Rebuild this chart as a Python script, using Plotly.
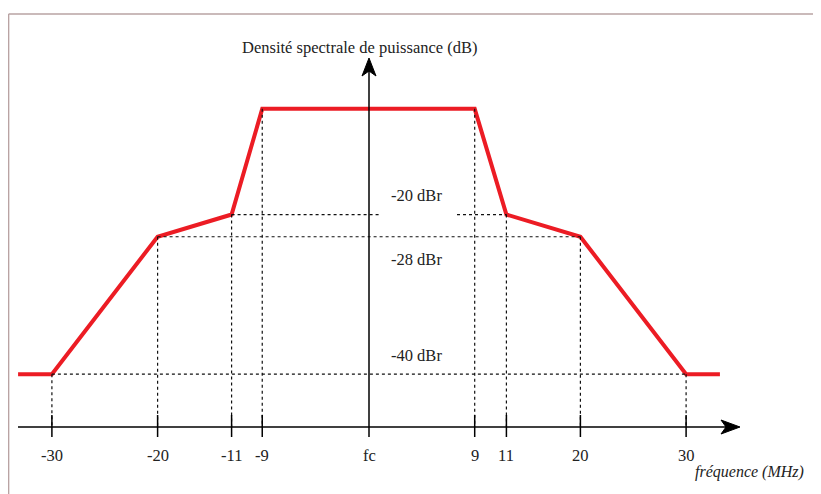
import plotly.graph_objects as go

# ---- data (schematic diagram) ----
freq_labels = ["-30", "-20", "-11", "-9", "fc", "9", "11", "20", "30"]
# position of each frequency tick on the (non-linear) schematic axis
freq_axis_pos = [-30.0, -20.0, -13.0, -10.1, 0.0, 10.0, 13.0, 20.0, 30.0]

# mask breakpoints (schematic axis positions) and levels (schematic heights)
mask_x = [-33.2, -30.0, -20.0, -13.0, -10.1, 10.0, 13.0, 20.0, 30.0, 33.2]
mask_level = ["-40", "-40", "-28", "-20", "0", "0", "-20", "-28", "-40", "-40"]
level_names = ["0", "-20", "-28", "-40"]
level_height = [30.1, 20.1, 18.0, 5.0]
level_labels = ["", "-20 dBr", "-28 dBr", "-40 dBr"]

y_title = "Densité spectrale de puissance (dB)"
x_title = "fréquence (MHz)"

# ---- geometry helpers (page pixels) ----
W, H = 821, 494
OFF = 8             # page body margin
PX = 10.57          # pixels per diagram unit
X0, Y0 = 369, 427   # page pixel position of origin
def ux(px):
    return (px - X0) / PX
def uy(py):
    return (Y0 - py) / PX

lvl = dict(zip(level_names, level_height))
mask_y = [lvl[k] for k in mask_level]
FONT = "Liberation Serif, Times New Roman, serif"
FS = 16.5
RED = "#ec1c24"
TXT = "#222222"

fig = go.Figure()

shapes = []
dash = dict(color="#111111", width=1.2, dash="3px,3px")

# dashed guides: horizontal
y40, y28, y20 = lvl["-40"], lvl["-28"], lvl["-20"]
shapes.append(dict(type="line", xref="x", yref="y", x0=mask_x[1], x1=mask_x[8], y0=y40, y1=y40, line=dash))
shapes.append(dict(type="line", xref="x", yref="y", x0=mask_x[2], x1=mask_x[7], y0=y28, y1=y28, line=dash))
shapes.append(dict(type="line", xref="x", yref="y", x0=mask_x[3], x1=ux(381), y0=y20, y1=y20, line=dash))
shapes.append(dict(type="line", xref="x", yref="y", x0=ux(457), x1=mask_x[6], y0=y20, y1=y20, line=dash))
# dashed guides: vertical
for xp, yv in zip(mask_x[1:9], mask_y[1:9]):
    shapes.append(dict(type="line", xref="x", yref="y", x0=xp, x1=xp, y0=yv, y1=0, line=dash))

# axes
axl = dict(color="black", width=1.5)
shapes.append(dict(type="line", xref="x", yref="y", x0=ux(18), x1=ux(730), y0=0, y1=0, line=axl))
shapes.append(dict(type="line", xref="x", yref="y", x0=0, x1=0, y0=uy(437), y1=uy(66), line=axl))
# arrow heads
shapes.append(dict(type="path", xref="x", yref="y",
                   path=f"M {ux(740)} {uy(427)} L {ux(721)} {uy(420)} L {ux(726)} {uy(427)} L {ux(721)} {uy(434)} Z",
                   fillcolor="black", line=dict(color="black", width=1)))
shapes.append(dict(type="path", xref="x", yref="y",
                   path=f"M {ux(369)} {uy(58)} L {ux(362)} {uy(76)} L {ux(369)} {uy(71)} L {ux(376)} {uy(76)} Z",
                   fillcolor="black", line=dict(color="black", width=1)))
# ticks
for xp in freq_axis_pos:
    if xp == 0:
        continue
    shapes.append(dict(type="line", xref="x", yref="y", x0=xp, x1=xp, y0=uy(415), y1=uy(437), line=axl))

# frame (top + left lines)
frame = dict(color="#b9a3a3", width=1.5)
shapes.append(dict(type="line", xref="x", yref="y", x0=ux(8.6), x1=ux(W + 5), y0=uy(14), y1=uy(14), line=frame))
shapes.append(dict(type="line", xref="x", yref="y", x0=ux(8.6), x1=ux(8.6), y0=uy(14), y1=uy(H + 5), line=frame))

# red mask
fig.add_trace(go.Scatter(x=mask_x, y=mask_y, mode="lines",
                         line=dict(color=RED, width=4), hoverinfo="skip", showlegend=False))

annotations = []
for lab, xp in zip(freq_labels, freq_axis_pos):
    annotations.append(dict(x=xp, y=uy(455), xref="x", yref="y", text=lab, showarrow=False,
                            font=dict(family=FONT, size=FS, color=TXT)))
label_y = {"-20 dBr": uy(195), "-28 dBr": uy(259), "-40 dBr": uy(355)}
for lab in level_labels:
    if lab:
        annotations.append(dict(x=ux(416), y=label_y[lab], xref="x", yref="y", text=lab, showarrow=False,
                                font=dict(family=FONT, size=FS, color=TXT)))
annotations.append(dict(x=ux(360), y=uy(47), xref="x", yref="y", text=y_title, showarrow=False,
                        font=dict(family=FONT, size=FS, color=TXT)))
annotations.append(dict(x=ux(806), y=uy(472), xref="x", yref="y", text=f"<i>{x_title}</i>", showarrow=False,
                        xanchor="right", font=dict(family=FONT, size=16, color=TXT)))

fig.update_layout(
    width=W - OFF, height=H - OFF, margin=dict(l=0, r=0, t=0, b=0),
    paper_bgcolor="white", plot_bgcolor="white",
    xaxis=dict(range=[ux(OFF), ux(W)], visible=False, fixedrange=True),
    yaxis=dict(range=[uy(H), uy(OFF)], visible=False, fixedrange=True),
    shapes=shapes, annotations=annotations,
)
fig.write_html("out.html")
